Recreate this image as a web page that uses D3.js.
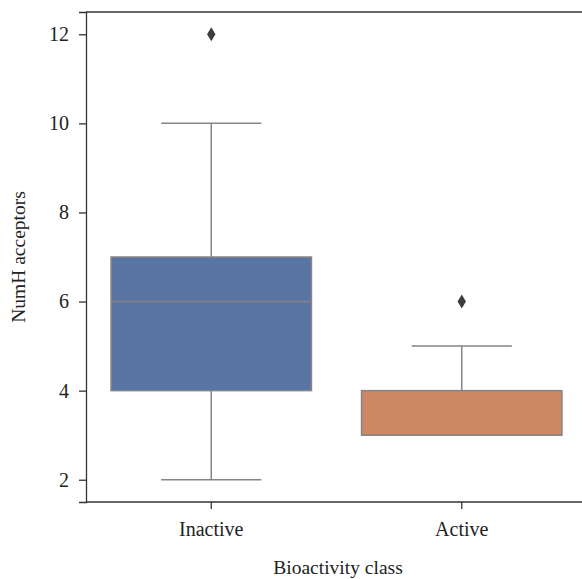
<!DOCTYPE html>
<html><head><meta charset="utf-8">
<script src="https://cdn.jsdelivr.net/npm/d3@7"></script>
<style>body{margin:0;background:#fff}svg{display:block}text{font-family:"Liberation Serif","DejaVu Serif",serif;fill:#222}</style>
</head><body>
<svg id="c" width="582" height="579"></svg>
<script>
const categories = ["Inactive", "Active"];
const whiskerLow = [2, 3];
const q1 = [4, 3];
const median = [6, 3];
const q3 = [7, 4];
const whiskerHigh = [10, 5];
const outliers = [[12], [6]];
const colors = ["#5975a4", "#cc8963"];
const yTicks = [2, 4, 6, 8, 10, 12];

(function () {
const svg = d3.select("#c");
const mLeft = 86, mTop = 12, mRight = 587, mBottom = 502;
const x = d3.scaleBand().domain(categories).range([mLeft, mRight]).padding(0);
const y = d3.scaleLinear().domain([1.5, 12.5]).range([mBottom, mTop]);
const bw = x.bandwidth() * 0.8;
const lineCol = "#858585";
const fs = "20px";

const g = svg.append("g");
categories.forEach((c, i) => {
  const cx = x(c) + x.bandwidth() / 2;
  g.append("line").attr("x1", cx).attr("x2", cx).attr("y1", y(q3[i])).attr("y2", y(whiskerHigh[i])).attr("stroke", lineCol).attr("stroke-width", 1.5);
  g.append("line").attr("x1", cx).attr("x2", cx).attr("y1", y(q1[i])).attr("y2", y(whiskerLow[i])).attr("stroke", lineCol).attr("stroke-width", 1.5);
  [whiskerLow[i], whiskerHigh[i]].forEach(v => {
    g.append("line").attr("x1", cx - bw / 4).attr("x2", cx + bw / 4).attr("y1", y(v)).attr("y2", y(v)).attr("stroke", lineCol).attr("stroke-width", 1.5);
  });
  g.append("rect").attr("x", cx - bw / 2).attr("width", bw).attr("y", y(q3[i])).attr("height", y(q1[i]) - y(q3[i]))
    .attr("fill", colors[i]).attr("stroke", lineCol).attr("stroke-width", 1.5);
  g.append("line").attr("x1", cx - bw / 2).attr("x2", cx + bw / 2).attr("y1", y(median[i])).attr("y2", y(median[i])).attr("stroke", lineCol).attr("stroke-width", 1.5);
  outliers[i].forEach(v => {
    const py = y(v);
    g.append("path").attr("d", `M${cx},${py - 7}L${cx + 4.2},${py}L${cx},${py + 7}L${cx - 4.2},${py}Z`).attr("fill", "#3d3d3d");
  });
});

svg.append("line").attr("x1", mLeft).attr("x2", mRight).attr("y1", mTop).attr("y2", mTop).attr("stroke", "#333").attr("stroke-width", 1.3);
svg.append("line").attr("x1", mLeft).attr("x2", mRight).attr("y1", mBottom).attr("y2", mBottom).attr("stroke", "#333").attr("stroke-width", 1.3);
svg.append("line").attr("x1", mRight).attr("x2", mRight).attr("y1", mTop).attr("y2", mBottom).attr("stroke", "#333").attr("stroke-width", 1.3);

const yAxis = svg.append("g").attr("transform", `translate(${mLeft},0)`)
  .call(d3.axisLeft(y).tickValues(yTicks).tickSize(7).tickPadding(10));
yAxis.select(".domain").attr("stroke", "#333").attr("stroke-width", 1.3);
yAxis.selectAll(".tick line").attr("stroke", "#333").attr("stroke-width", 1.3);
yAxis.selectAll("text").style("font-size", fs).style("font-family", "Liberation Serif").attr("fill", "#222");

const xAxis = svg.append("g").attr("transform", `translate(0,${mBottom})`)
  .call(d3.axisBottom(x).tickSize(7).tickPadding(13));
xAxis.select(".domain").remove();
xAxis.selectAll(".tick line").attr("stroke", "#333").attr("stroke-width", 1.3);
xAxis.selectAll("text").style("font-size", fs).style("font-family", "Liberation Serif").attr("fill", "#222");

svg.append("text").attr("x", 338).attr("y", 574).attr("text-anchor", "middle").style("font-size", "19.5px").text("Bioactivity class");
svg.append("text").attr("transform", `translate(25,${(mTop + mBottom) / 2}) rotate(-90)`).attr("text-anchor", "middle").style("font-size", "19.5px").text("NumH acceptors");
})();
</script>
</body></html>
